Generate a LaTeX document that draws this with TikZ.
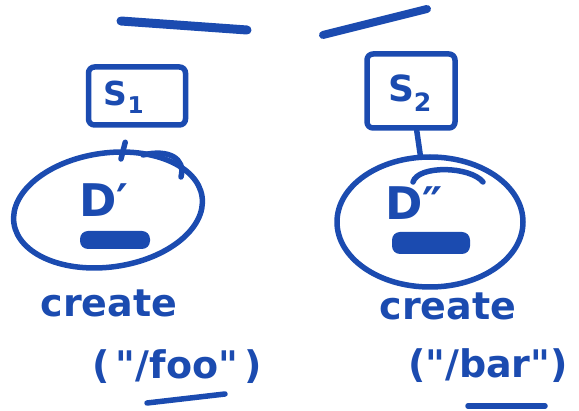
\documentclass[tikz,border=0pt]{standalone}
\usepackage{fontspec}
\setmainfont{DejaVu Sans}
\newfontfamily\handfont{DejaVu Sans}
\usepackage{xcolor}
\usetikzlibrary{shapes.geometric,positioning}
\definecolor{ink}{HTML}{1B4BB0}

\begin{document}
\begin{tikzpicture}[
    x=1pt, y=-1pt,
    pen/.style={draw=ink, line width=5.5pt, line cap=round, line join=round},
    stroke/.style={pen, line width=#1},
    stroke/.default=9pt,
    sbox/.style={pen, rounded corners=6pt, inner sep=0pt},
    disk/.style={pen, ellipse, inner sep=0pt},
    blob/.style={fill=ink, rounded corners=8pt, inner sep=0pt},
    hand/.style={text=ink, inner sep=0pt, font=\handfont\bfseries\fontsize{#1}{#1}\selectfont},
    hand/.default=38,
  ]
  \useasboundingbox (0,0) rectangle (579,411);

  % strokes at the top
  \draw[stroke] (121,21) -- (247,30);
  \draw[stroke=8pt] (323,35) -- (427,9);

  % left side: S1 over D'
  \node[sbox, minimum width=97pt, minimum height=58pt] (s1) at (137,96) {};
  \node[hand=33] (s1txt) at (124,97) {S\textsubscript{1}};
  \node[disk, minimum width=190pt, minimum height=114pt, rotate=8] (d1) at (108,210) {};
  \node[hand=45] (d1txt) at (104,200) {D′};
  \node[blob, minimum width=70pt, minimum height=18pt] (b1) at (115,240) {};
  \draw[pen] (143,155) .. controls (168,149) and (186,158) .. (181,177);
  \draw[pen, shorten <=15pt, shorten >=-10pt] (s1) -- (d1);

  % right side: S2 over D''
  \node[sbox, minimum width=88pt, minimum height=74pt] (s2) at (411,91) {};
  \node[hand=36] (s2txt) at (410,93) {S\textsubscript{2}};
  \node[disk, minimum width=186pt, minimum height=130pt] (d2) at (430,222) {};
  \node[hand=45] (d2txt) at (414,203) {D″};
  \node[blob, minimum width=78pt, minimum height=22pt] (b2) at (431,243) {};
  \draw[pen] (413,182) .. controls (418,165) and (470,166) .. (483,182);
  \draw[pen] (s2) -- (d2);

  % calls
  \node[hand] (c1) at (109,303) {create};
  \node[hand] (a1) at (177,367) {(\,"/foo"\,)};
  \draw[pen] (147,403) -- (225,394);

  \node[hand] (c2) at (448,306) {create};
  \node[hand] (a2) at (488,366) {("/bar")};
  \draw[pen] (468,406) -- (545,406);
\end{tikzpicture}
\end{document}
